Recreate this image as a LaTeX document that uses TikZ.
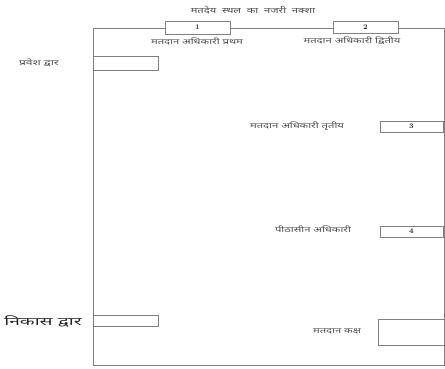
\documentclass[tikz,border=0pt]{standalone}
\usepackage{fontspec}
\newfontfamily\hindi[Script=Devanagari]{Noto Sans}
\newcommand{\widetxt}[2][1.5]{\scalebox{#1}[1]{#2}}
\begin{document}
\begin{tikzpicture}[x=1pt,y=-1pt,
  wall/.style={draw=black!50,line width=0.7pt},
  slot/.style={draw=black!50,line width=0.7pt,fill=white},
  lbl/.style={font=\hindi\fontsize{7.5}{8}\selectfont,text=black!70,inner sep=0pt},
  num/.style={font=\bfseries\fontsize{7}{8}\selectfont,text=black!85,inner sep=0pt}]
\useasboundingbox (0,0) rectangle (445,369);
% outer walls
\draw[wall] (165,28) -- (93,28) -- (93,365) -- (444,365) -- (444,28) -- (398,28);
\draw[wall] (230,28) -- (333,28);
% boxes
\draw[slot] (165,21) rectangle (230,34) node[num,midway] (b1) {1};
\draw[slot] (333,21) rectangle (398,33) node[num,midway] (b2) {2};
\draw[slot] (93,56) rectangle (158,70) coordinate (entry);
\draw[slot] (380,121) rectangle (443,132) node[num,midway] (b3) {3};
\draw[slot] (380,226) rectangle (443,237) node[num,midway] (b4) {4};
\draw[slot] (93,315) rectangle (158,326) coordinate (exitb);
\draw[slot] (378,319) rectangle (444,345) coordinate (booth);
% labels
\node[lbl,font=\hindi\fontsize{8}{9}\selectfont] (title) at (253,10) {\widetxt[1.4]{मतदेय\ \ स्थल\ \ का\ \ नजरी\ \ नक्शा}};
\node[lbl] (l1) at (197,41) {\widetxt{मतदान अधिकारी प्रथम}};
\node[lbl] (l2) at (352,41) {\widetxt{मतदान अधिकारी द्वितीय}};
\node[lbl] (l3) at (297,126) {\widetxt{मतदान अधिकारी तृतीय}};
\node[lbl] (l4) at (313,229) {\widetxt{पीठासीन अधिकारी}};
\node[lbl] (le) at (39,63) {\widetxt[1.6]{प्रवेश द्वार}};
\node[lbl,font=\hindi\bfseries\fontsize{11}{12}\selectfont,text=black!85] (lx) at (43,321) {\widetxt[1.75]{निकास द्वार}};
\node[lbl] (lb) at (337,331) {\widetxt{मतदान कक्ष}};
\end{tikzpicture}
\end{document}
